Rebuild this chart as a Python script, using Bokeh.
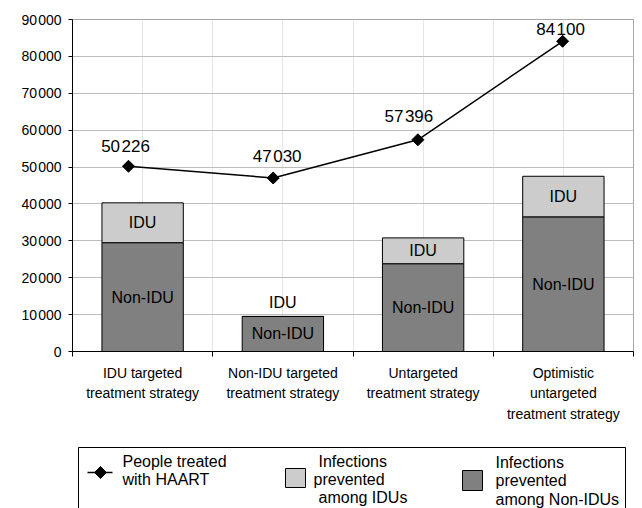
import math
from bokeh.plotting import figure
from bokeh.models import ColumnDataSource, Range1d, FixedTicker, LinearAxis, Grid
from bokeh.layouts import column
from bokeh.embed import file_html
from bokeh.resources import INLINE
from bokeh.core.properties import value

# ---------------- data ----------------
categories = ["IDU targeted\ntreatment strategy",
              "Non-IDU targeted\ntreatment strategy",
              "Untargeted\ntreatment strategy",
              "Optimistic\nuntargeted\ntreatment strategy"]
non_idu = [29500, 9500, 23800, 36500]
idu = [10800, 0, 7000, 11000]
haart = [50226, 47030, 57396, 84100]
haart_labels = ["50\u200a226", "47\u200a030", "57\u200a396", "84\u200a100"]
y_ticks = [0, 10000, 20000, 30000, 40000, 50000, 60000, 70000, 80000, 90000]
legend_texts = [["People treated", "with HAART"],
                ["Infections", "prevented", "among IDUs"],
                ["Infections", "prevented", "among Non-IDUs"]]

FONT = "Liberation Sans"
DARK = "#808080"
LIGHT = "#cccccc"

W = 642
H1 = 440
H2 = 508 - H1
L, R, T = 72, 9, 19
B = H1 - 351

n = len(categories)
xc = [i + 0.5 for i in range(n)]
tops = [a + b for a, b in zip(non_idu, idu)]

p = figure(width=W, height=H1, output_backend="svg", toolbar_location=None,
           x_range=Range1d(0, n), y_range=Range1d(0, 90000),
           min_border_left=L, min_border_right=R, min_border_top=T,
           min_border_bottom=B, x_axis_location=None, y_axis_location=None)
p.background_fill_color = "white"
p.border_fill_color = "white"
p.outline_line_color = "#a6a6a6"
p.outline_line_width = 1

# secondary x range for the line series (plotted on its own category axis)
p.extra_x_ranges = {"line": Range1d(0.113, 3.99)}

yaxis = LinearAxis(ticker=FixedTicker(ticks=y_ticks))
yaxis.major_label_overrides = {v: (f"{v:,}".replace(",", "\u200a")) for v in y_ticks}
yaxis.major_label_text_font = FONT
yaxis.major_label_text_font_size = "14px"
yaxis.major_label_text_color = "black"
yaxis.major_tick_out = 4
yaxis.major_tick_in = 0
yaxis.minor_tick_line_color = None
yaxis.major_label_standoff = 7
yaxis.axis_line_color = "black"
yaxis.major_tick_line_color = "black"
p.add_layout(yaxis, "left")

xaxis = LinearAxis(ticker=FixedTicker(ticks=xc, minor_ticks=list(range(n + 1))))
xaxis.major_label_overrides = {x: c for x, c in zip(xc, categories)}
xaxis.major_label_text_font = FONT
xaxis.major_label_text_font_size = "14px"
xaxis.major_label_text_line_height = 1.3
xaxis.major_label_text_color = "black"
xaxis.major_label_standoff = 8
xaxis.major_tick_line_color = None
xaxis.major_tick_out = 0
xaxis.major_tick_in = 0
xaxis.minor_tick_line_color = "black"
xaxis.minor_tick_out = 5
xaxis.minor_tick_in = 0
xaxis.axis_line_color = "black"
p.add_layout(xaxis, "below")

g = Grid(dimension=1, ticker=FixedTicker(ticks=y_ticks), grid_line_color="#bdbdbd")
p.add_layout(g)

src = ColumnDataSource(dict(x=xc, non=non_idu, idu=idu, top=tops,
                            non_mid=[v / 2 for v in non_idu],
                            idu_mid=[a + b / 2 for a, b in zip(non_idu, idu)],
                            dy=[0, -14, 0, 0]))
bw = 0.58
p.vbar(x="x", bottom=0, top="non", width=bw, source=src,
       fill_color=DARK, line_color="black", line_width=1)
p.vbar(x="x", bottom="non", top="top", width=bw, source=src,
       fill_color=LIGHT, line_color="black", line_width=1)

p.text(x="x", y="non_mid", text=value("Non-IDU"), source=src,
       text_font=value(FONT), text_font_size="16px", text_color="black",
       text_align="center", text_baseline="middle")
p.text(x="x", y="idu_mid", text=value("IDU"), source=src, y_offset="dy",
       text_font=value(FONT), text_font_size="16px", text_color="black",
       text_align="center", text_baseline="middle")

lsrc = ColumnDataSource(dict(x=xc, y=haart, lab=haart_labels,
                             dx=[-3, 4, -9, -2], dy=[-20, -22, -23, -12]))
p.line(x="x", y="y", source=lsrc, x_range_name="line",
       line_color="black", line_width=1.5)
p.scatter(x="x", y="y", source=lsrc, x_range_name="line", marker="square",
          angle=math.pi / 4, size=8.5, fill_color="black", line_color="black")
p.text(x="x", y="y", text="lab", source=lsrc, x_range_name="line",
       x_offset="dx", y_offset="dy",
       text_font=value(FONT), text_font_size="17px", text_color="black",
       text_align="center", text_baseline="middle")

# ---------------- lower panel: legend ----------------
q = figure(width=W, height=H2, output_backend="svg", toolbar_location=None,
           x_range=Range1d(L, W - R), y_range=Range1d(H2, 0),
           min_border_left=L, min_border_right=R, min_border_top=0,
           min_border_bottom=0, x_axis_location=None, y_axis_location=None)
q.outline_line_color = None
q.grid.grid_line_color = None
q.background_fill_color = "white"
q.border_fill_color = "white"

oy = H1
q.quad(left=78, right=625, top=447 - oy, bottom=H2 + 20,
       fill_color="white", line_color="black", line_width=1)

q.line(x=[87, 112], y=[472 - oy, 472 - oy], line_color="black", line_width=1.5)
q.scatter(x=[100], y=[472 - oy], marker="square", angle=math.pi / 4, size=8.5,
          fill_color="black", line_color="black")
q.quad(left=[285], right=[305], top=[468 - oy], bottom=[487 - oy],
       fill_color=LIGHT, line_color="black")
q.quad(left=[462], right=[482], top=[470 - oy], bottom=[490 - oy],
       fill_color=DARK, line_color="black")

lx = [[122, 122], [318, 313, 318], [495, 495, 495]]
ly = [[461, 479], [461, 479, 497], [462, 480, 499]]
tx, ty, tt = [], [], []
for texts, xs, ys in zip(legend_texts, lx, ly):
    for t, x, y in zip(texts, xs, ys):
        tx.append(x)
        ty.append(y - oy)
        tt.append(t)
q.text(x=tx, y=ty, text=tt, text_font=value(FONT), text_font_size="16px",
       text_color="black", text_align="left", text_baseline="middle")

layout = column(p, q, spacing=0)
open("out.html", "w").write(file_html(layout, INLINE))
